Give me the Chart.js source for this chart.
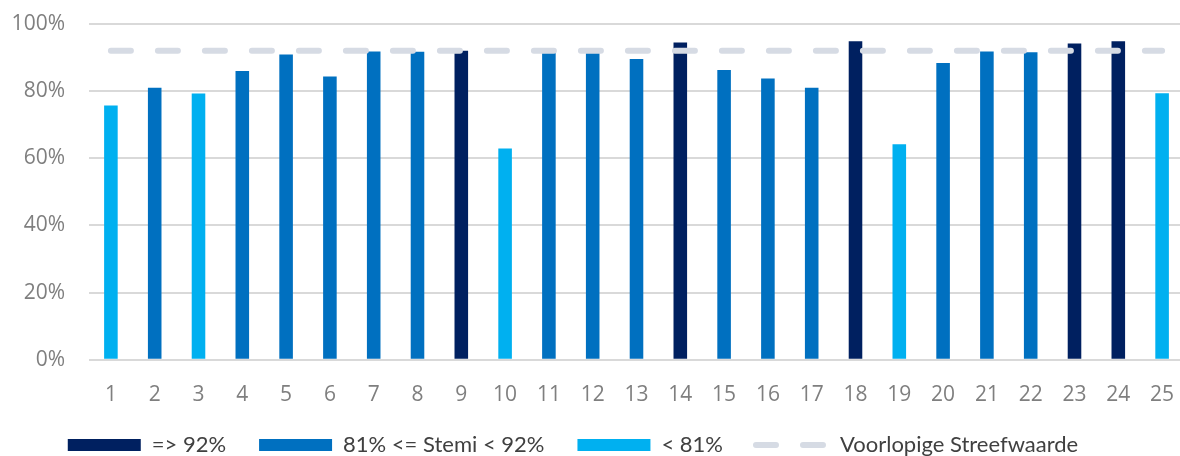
<!DOCTYPE html>
<html>
<head>
<meta charset="utf-8">
<script src="https://cdn.jsdelivr.net/npm/chart.js@4/dist/chart.umd.min.js"></script>
<style>
  html, body { margin: 0; padding: 0; background: #fff; overflow: hidden; }
  canvas { display: block; }
</style>
</head>
<body>
<canvas id="stemi-chart" width="1184" height="473"></canvas>
<script>
// Hospitals 1..25, share of STEMI patients treated in time (%)
const categories = ['1', '2', '3', '4', '5', '6', '7', '8', '9', '10', '11', '12', '13',
  '14', '15', '16', '17', '18', '19', '20', '21', '22', '23', '24', '25'];
const stemiValues = [75.7, 81.0, 79.3, 86.0, 90.9, 84.4, 91.8, 91.7, 92.0, 62.9, 91.4, 91.6, 89.6,
  94.5, 86.3, 83.8, 81.0, 94.9, 64.2, 88.4, 91.8, 91.6, 94.2, 94.9, 79.4];
const targetValues = [92, 92, 92, 92, 92, 92, 92, 92, 92, 92, 92, 92, 92,
  92, 92, 92, 92, 92, 92, 92, 92, 92, 92, 92, 92];
const yTicks = [0, 20, 40, 60, 80, 100];

const legendLabels = ['=> 92%', '81% <= Stemi < 92%', '< 81%', 'Voorlopige Streefwaarde'];

const COLORS = {
  high: '#002060',
  mid: '#0070C0',
  low: '#00B0F0',
  target: '#D6DBE4',
  grid: '#D9D9D9',
  tick: '#7F7F7F',
  legend: '#404040'
};

// colour class follows the thresholds from the legend
function barColor(v) {
  if (v >= 92) return COLORS.high;
  if (v >= 81) return COLORS.mid;
  return COLORS.low;
}

const tickFont = { family: "'Open Sans', sans-serif", size: 21 };

// legend is centred on the canvas by default; nudge it left and up a bit
const legendNudge = {
  id: 'legendNudge',
  afterLayout(chart) {
    const lg = chart.legend;
    lg.left -= 19;
    lg.right -= 19;
    lg.top -= 7;
    lg.bottom -= 7;
  }
};

new Chart(document.getElementById('stemi-chart'), {
  data: {
    labels: categories,
    datasets: [
      {
        type: 'line',
        label: legendLabels[3],
        data: targetValues,
        borderColor: COLORS.target,
        borderWidth: 6,
        borderDash: [20, 27],
        borderCapStyle: 'round',
        pointRadius: 0,
        fill: false,
        order: 1
      },
      {
        type: 'bar',
        label: 'Stemi',
        data: stemiValues,
        backgroundColor: stemiValues.map(barColor),
        categoryPercentage: 1,
        barPercentage: 0.31,
        order: 2
      }
    ]
  },
  plugins: [legendNudge],
  options: {
    responsive: false,
    animation: false,
    layout: { padding: { top: 24, left: 0, right: 0, bottom: 0 } },
    plugins: {
      tooltip: { enabled: false },
      legend: {
        position: 'bottom',
        labels: {
          usePointStyle: true,
          pointStyleWidth: 73,
          boxHeight: 12,
          padding: 33,
          color: COLORS.legend,
          font: { family: "Lato, sans-serif", size: 22 },
          generateLabels: () => {
            const boxes = [COLORS.high, COLORS.mid, COLORS.low].map((c, i) => ({
              text: legendLabels[i],
              fillStyle: c,
              strokeStyle: c,
              lineWidth: 0,
              pointStyle: 'rect',
              fontColor: COLORS.legend,
              hidden: false
            }));
            boxes.push({
              text: legendLabels[3],
              fillStyle: 'rgba(0,0,0,0)',
              strokeStyle: COLORS.target,
              lineWidth: 6,
              lineDash: [20, 27],
              lineCap: 'round',
              pointStyle: 'line',
              fontColor: COLORS.legend,
              hidden: false
            });
            return boxes;
          }
        }
      }
    },
    scales: {
      x: {
        // invisible tick marks give the gap between axis and labels
        grid: { drawOnChartArea: false, drawTicks: true, tickLength: 23, tickColor: 'rgba(0,0,0,0)' },
        border: { display: false },
        ticks: { color: COLORS.tick, font: tickFont, padding: 0, maxRotation: 0 }
      },
      y: {
        min: 0,
        max: 100,
        afterFit: scale => { scale.width = 89; },
        afterBuildTicks: scale => { scale.ticks = yTicks.map(v => ({ value: v })); },
        grid: { color: COLORS.grid, lineWidth: 2, drawTicks: true, tickLength: 24, tickColor: 'rgba(0,0,0,0)' },
        border: { display: false },
        ticks: {
          color: COLORS.tick,
          font: tickFont,
          padding: 0,
          callback: v => v + '%'
        }
      }
    }
  }
});
</script>
</body>
</html>
